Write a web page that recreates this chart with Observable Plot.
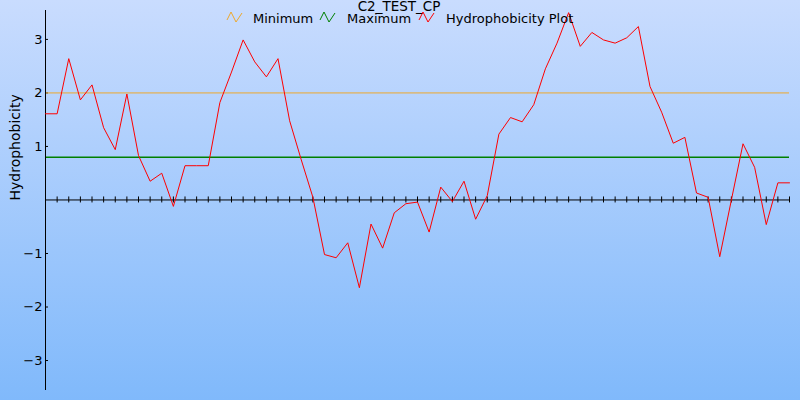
<!DOCTYPE html>
<html><head><meta charset="utf-8">
<script src="https://cdn.jsdelivr.net/npm/d3@7"></script>
<script src="https://cdn.jsdelivr.net/npm/@observablehq/plot@0.6"></script>
<style>body{margin:0;background:#fff;} #chart{width:800px;height:400px;}</style>
</head><body><div id="chart"></div>
<script>
const title = "C2_TEST_CP";
const yLabel = "Hydrophobicity";
const seriesNames = ["Minimum", "Maximum", "Hydrophobicity Plot"];
const seriesColors = ["#eea82c", "#008000", "#ff0000"];
const minimumValue = 2.0;
const maximumValue = 0.8;
const hydrophobicity = [
  1.61, 1.61, 2.64, 1.87, 2.15, 1.35, 0.94, 1.98, 0.83, 0.35,
  0.50, -0.12, 0.64, 0.64, 0.64, 1.82, 2.39, 2.99, 2.58, 2.30,
  2.64, 1.48, 0.75, 0.05, -1.02, -1.08, -0.80, -1.64, -0.45, -0.90,
  -0.24, -0.07, -0.04, -0.60, 0.24, -0.03, 0.35, -0.36, 0.08, 1.23,
  1.54, 1.46, 1.78, 2.45, 2.93, 3.50, 2.87, 3.13, 2.99, 2.93,
  3.03, 3.24, 2.12, 1.64, 1.06, 1.17, 0.13, 0.05, -1.06, 0.00,
  1.05, 0.61, -0.46, 0.32, 0.32
];
const yTicks = [-3, -2, -1, 1, 2, 3];
const positions = hydrophobicity.map((v, i) => i);
const data = hydrophobicity.map((v, i) => ({pos: i, value: v}));

const plot = Plot.plot({
  width: 800, height: 400,
  marginLeft: 45, marginRight: 11, marginTop: 10, marginBottom: 10,
  style: {background: "linear-gradient(#c9dcfe, #80b9fb)", fontFamily: "DejaVu Sans", fontSize: "13px", color: "black"},
  x: {domain: [0, hydrophobicity.length - 1], axis: null},
  y: {domain: [-3.56, 3.54]},
  marks: [
    Plot.axisY(yTicks, {tickSize: 0, tickPadding: 3, label: null, tickFormat: d3.format("d")}),
    Plot.ruleY(yTicks, {x1: 0, x2: 0, insetRight: -3, stroke: "black"}),
    Plot.ruleY([minimumValue], {stroke: seriesColors[0]}),
    Plot.ruleY([maximumValue], {stroke: seriesColors[1], strokeWidth: 1.5}),
    Plot.ruleY([0], {stroke: "black"}),
    Plot.ruleX(positions, {x: d => d, y1: 0, y2: 0, insetTop: -3, insetBottom: -3, stroke: "black"}),
    Plot.ruleX([0], {stroke: "black"}),
    Plot.line(data, {x: "pos", y: "value", stroke: seriesColors[2], strokeWidth: 1}),
    Plot.text([yLabel], {frameAnchor: "left", rotate: -90, dx: -29.5, text: d => d, fontSize: 14})
  ]
});
document.getElementById("chart").append(plot);

// title + legend overlaid at the top, as in the reference
const svg = d3.select(plot);
svg.append("text").attr("x", 399).attr("y", 10.5).attr("text-anchor", "middle")
  .attr("font-size", 13.5).attr("fill", "black").text(title);
const legendIconX = [227, 320, 419];
const legendTextX = [253, 347, 446];
seriesNames.forEach((name, k) => {
  const g = svg.append("g").attr("transform", `translate(${legendIconX[k]},12)`);
  g.append("polyline").attr("points", "0,8 4,0 9,10 15,1")
    .attr("fill", "none").attr("stroke", seriesColors[k]).attr("stroke-width", 1);
  svg.append("text").attr("x", legendTextX[k]).attr("y", 22.5).attr("text-anchor", "start")
    .attr("font-size", 13).attr("fill", "black").text(name);
});
</script>
</body></html>
